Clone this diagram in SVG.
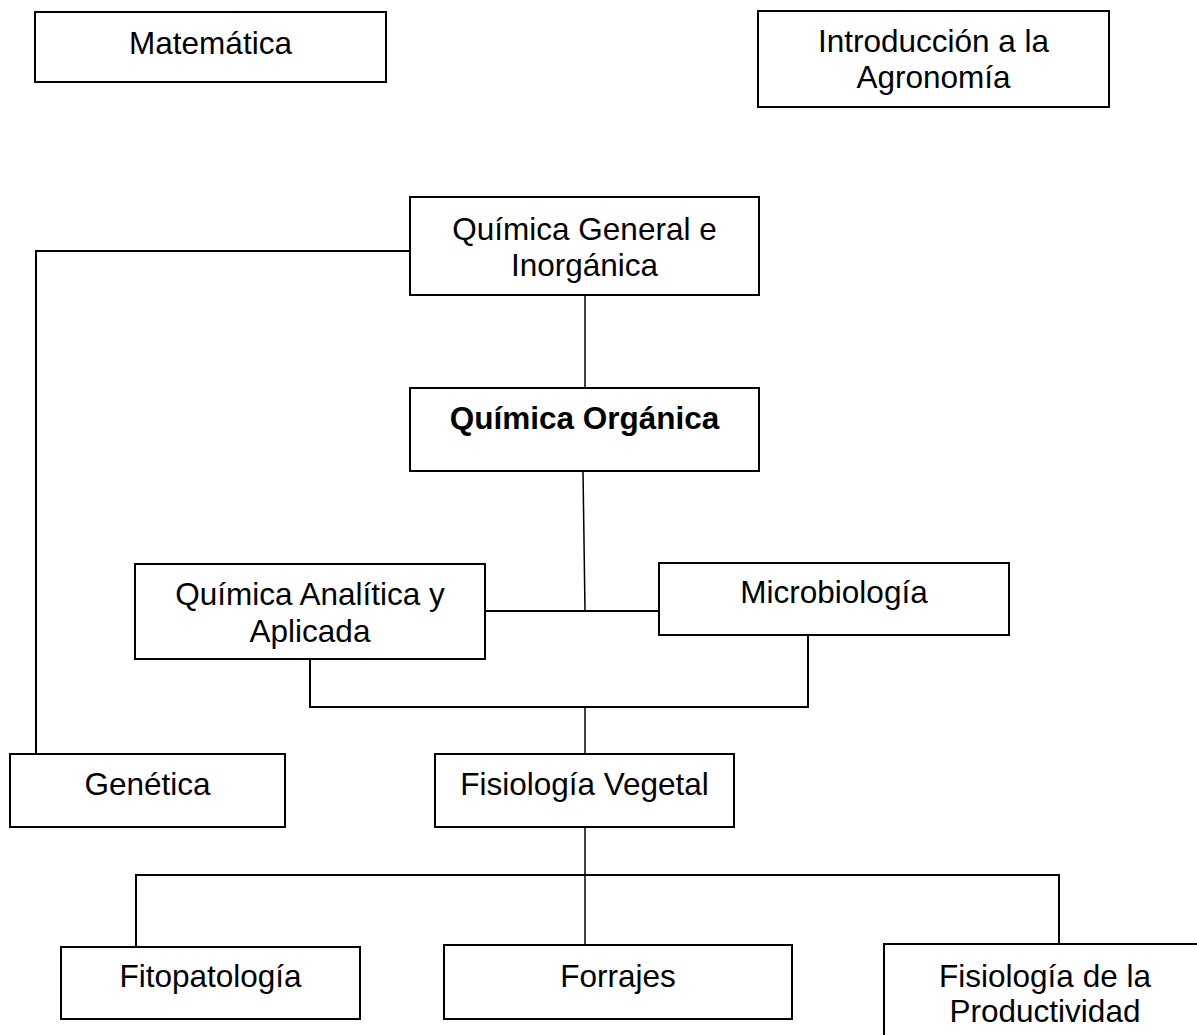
<svg xmlns="http://www.w3.org/2000/svg" width="1197" height="1035" viewBox="0 0 1197 1035">
  <style>
    .box { fill: #ffffff; stroke: #000000; stroke-width: 2; }
    .lbl { font-family: "Liberation Sans", Arial, sans-serif; font-size: 31.5px; fill: #000000; text-anchor: middle; }
    .bold { font-weight: bold; }
    .wire { fill: none; stroke: #000000; stroke-width: 2; }
    .thin { fill: none; stroke: #000000; stroke-width: 1.5; }
  </style>
  <rect width="1197" height="1035" fill="#ffffff"/>

  <g id="connectors">
    <!-- Química General e Inorgánica to Genética -->
    <polyline class="wire" points="410,251 36,251 36,754"/>
    <!-- Química General e Inorgánica to Química Orgánica -->
    <line class="thin" x1="585" y1="295" x2="585" y2="389"/>
    <!-- Química Orgánica to the Analítica / Microbiología bar -->
    <line class="thin" x1="583" y1="471" x2="585" y2="611"/>
    <line class="wire" x1="485" y1="611" x2="659" y2="611"/>
    <!-- Analítica and Microbiología join into Fisiología Vegetal -->
    <polyline class="wire" points="310,659 310,707 808,707 808,635"/>
    <line class="thin" x1="585" y1="707" x2="585" y2="754"/>
    <!-- Fisiología Vegetal fan-out -->
    <line class="thin" x1="585" y1="827" x2="585" y2="946"/>
    <polyline class="wire" points="136,947 136,875 1059,875 1059,945"/>
  </g>

  <g id="matematica">
    <rect class="box" x="35" y="12" width="351" height="70"/>
    <text class="lbl" x="210.5" y="54">Matemática</text>
  </g>

  <g id="introduccion-agronomia">
    <rect class="box" x="758" y="11" width="351" height="96"/>
    <text class="lbl" x="933.5" y="52">Introducción a la</text>
    <text class="lbl" x="933.5" y="88">Agronomía</text>
  </g>

  <g id="quimica-general">
    <rect class="box" x="410" y="197" width="349" height="98"/>
    <text class="lbl" x="584.5" y="240">Química General e</text>
    <text class="lbl" x="584.5" y="276">Inorgánica</text>
  </g>

  <g id="quimica-organica">
    <rect class="box" x="410" y="388" width="349" height="83"/>
    <text class="lbl bold" x="584.5" y="429">Química Orgánica</text>
  </g>

  <g id="quimica-analitica">
    <rect class="box" x="135" y="564" width="350" height="95"/>
    <text class="lbl" x="310" y="605">Química Analítica y</text>
    <text class="lbl" x="310" y="642">Aplicada</text>
  </g>

  <g id="microbiologia">
    <rect class="box" x="659" y="563" width="350" height="72"/>
    <text class="lbl" x="834" y="603">Microbiología</text>
  </g>

  <g id="genetica">
    <rect class="box" x="10" y="754" width="275" height="73"/>
    <text class="lbl" x="147.5" y="795">Genética</text>
  </g>

  <g id="fisiologia-vegetal">
    <rect class="box" x="435" y="754" width="299" height="73"/>
    <text class="lbl" x="584.5" y="795">Fisiología Vegetal</text>
  </g>

  <g id="fitopatologia">
    <rect class="box" x="61" y="947" width="299" height="72"/>
    <text class="lbl" x="210.5" y="987">Fitopatología</text>
  </g>

  <g id="forrajes">
    <rect class="box" x="444" y="945" width="348" height="74"/>
    <text class="lbl" x="618" y="987">Forrajes</text>
  </g>

  <g id="fisiologia-productividad">
    <rect class="box" x="884" y="944" width="330" height="110"/>
    <text class="lbl" x="1045" y="987">Fisiología de la</text>
    <text class="lbl" x="1045" y="1022">Productividad</text>
  </g>
</svg>
